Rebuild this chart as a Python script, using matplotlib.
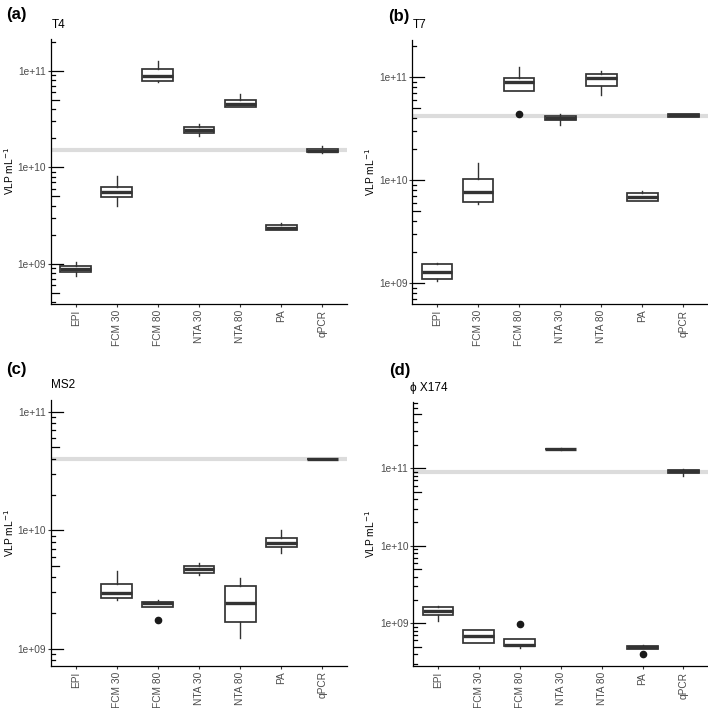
import numpy as np
import matplotlib
matplotlib.use("Agg")
import matplotlib.pyplot as plt
from matplotlib.ticker import FixedLocator, FixedFormatter

plt.rcParams["font.family"] = ["Liberation Sans", "DejaVu Sans"]

# methods on the x axis
categories = ["EPI", "FCM 30", "FCM 80", "NTA 30", "NTA 80", "PA", "qPCR"]

# box summaries: [lower whisker, Q1, median, Q3, upper whisker], None = no data
t4_stats = [
    [7.6e8, 8.2e8, 8.96e8, 9.6e8, 1.06e9],
    [4.0e9, 4.98e9, 5.5e9, 6.2e9, 8.15e9],
    [7.6e10, 7.8e10, 8.8e10, 1.03e11, 1.26e11],
    [2.13e10, 2.25e10, 2.44e10, 2.64e10, 2.79e10],
    [4.2e10, 4.25e10, 4.53e10, 4.98e10, 5.7e10],
    [2.23e9, 2.23e9, 2.38e9, 2.55e9, 2.64e9],
    [1.42e10, 1.43e10, 1.49e10, 1.55e10, 1.67e10],
]
t4_out = [[], [], [], [], [], [], []]
t4_ref = 1.5e10

t7_stats = [
    [1.05e9, 1.09e9, 1.29e9, 1.52e9, 1.57e9],
    [5.9e9, 6.1e9, 7.6e9, 1.03e10, 1.45e10],
    [7.3e10, 7.3e10, 8.9e10, 9.8e10, 1.24e11],
    [3.44e10, 3.8e10, 3.97e10, 4.2e10, 4.35e10],
    [6.7e10, 8.1e10, 9.85e10, 1.06e11, 1.14e11],
    [6.2e9, 6.2e9, 6.8e9, 7.5e9, 7.9e9],
    [4.1e10, 4.1e10, 4.28e10, 4.4e10, 4.4e10],
]
t7_out = [[], [], [4.37e10], [], [], [], []]
t7_ref = 4.18e10

ms2_stats = [
    None,
    [2.59e9, 2.69e9, 2.97e9, 3.52e9, 4.5e9],
    [2.23e9, 2.23e9, 2.44e9, 2.49e9, 2.59e9],
    [4.19e9, 4.38e9, 4.68e9, 4.99e9, 5.25e9],
    [1.23e9, 1.68e9, 2.44e9, 3.4e9, 3.95e9],
    [6.4e9, 7.27e9, 7.85e9, 8.55e9, 1.0e10],
    [3.97e10, 3.98e10, 3.99e10, 4.0e10, 4.01e10],
]
ms2_out = [[], [], [1.75e9], [], [], [], []]
ms2_ref = 4.0e10

phix_stats = [
    [1.08e9, 1.27e9, 1.46e9, 1.61e9, 1.66e9],
    [5.62e8, 5.62e8, 6.86e8, 8.2e8, 8.2e8],
    [4.8e8, 5.05e8, 5.3e8, 6.2e8, 6.2e8],
    [1.72e11, 1.75e11, 1.77e11, 1.79e11, 1.82e11],
    None,
    [4.7e8, 4.7e8, 4.9e8, 5.14e8, 5.3e8],
    [8.0e10, 8.7e10, 9.15e10, 9.5e10, 9.8e10],
]
phix_out = [[], [], [9.8e8], [], [], [4.0e8], []]
phix_ref = 8.9e10

W, H = 708, 708
fig = plt.figure(figsize=(W / 100, H / 100), dpi=100)


def px_axes(left, right, top, bottom):
    return fig.add_axes([left / W, 1 - bottom / H, (right - left) / W, (bottom - top) / H])


panels = [
    # tag, title, stats, outliers, ref, ylim (log10), box in px, tag pos, title pos, ylabel x
    ("(a)", "T4", t4_stats, t4_out, t4_ref, (8.586, 11.328), (51, 347, 39, 304), (6.5, 15), (51.5, 24.5), 2.5),
    ("(b)", "T7", t7_stats, t7_out, t7_ref, (8.796, 11.359), (412.3, 708, 40, 304), (388.5, 16), (413, 25), 363),
    ("(c)", "MS2", ms2_stats, ms2_out, ms2_ref, (8.857, 11.099), (51, 347, 400, 665.7), (6.5, 369), (51.5, 385.5), 2.5),
    ("(d)", "\u03d5 X174", phix_stats, phix_out, phix_ref, (8.445, 11.852), (413.3, 708, 402.3, 666.3), (389, 370.5), (410.5, 387.5), 363),
]

dark = "#333333"
for tag, title, stats, outs, ref, ylog, box, tagpos, titlepos, ylx in panels:
    ax = px_axes(*box)
    ax.set_yscale("log")
    ax.set_ylim(10 ** ylog[0], 10 ** ylog[1])
    ax.set_xlim(-0.6, len(categories) - 0.4)

    ax.axhline(ref, color="#dcdcdc", lw=3, zorder=1)

    bstats, pos = [], []
    for i, s in enumerate(stats):
        if s is None:
            continue
        bstats.append(dict(whislo=s[0], q1=s[1], med=s[2], q3=s[3], whishi=s[4], fliers=outs[i]))
        pos.append(i)
    ax.bxp(bstats, positions=pos, widths=0.75, patch_artist=True, showcaps=False,
           boxprops=dict(facecolor="white", edgecolor=dark, lw=1.25),
           medianprops=dict(color=dark, lw=2.4, solid_capstyle="butt"),
           whiskerprops=dict(color=dark, lw=1.0),
           flierprops=dict(marker="o", markerfacecolor="#1a1a1a", markeredgecolor="#1a1a1a", markersize=4.5),
           zorder=3)

    # log ticks drawn inside the panel
    y0, y1 = ax.get_ylim()
    tr = ax.get_yaxis_transform()
    for k in range(int(np.floor(ylog[0])), int(np.ceil(ylog[1])) + 1):
        for m in range(1, 10):
            v = m * 10.0 ** k
            if v < y0 or v > y1:
                continue
            L = 0.04 if m == 1 else (0.0267 if m == 5 else 0.0133)
            ax.plot([0, L], [v, v], transform=tr, color="black", lw=0.9, zorder=4)

    decades = [10.0 ** k for k in range(int(np.ceil(ylog[0])), int(np.floor(ylog[1])) + 1)]
    ax.yaxis.set_major_locator(FixedLocator(decades))
    ax.yaxis.set_major_formatter(FixedFormatter(["1e+%02d" % int(round(np.log10(d))) for d in decades]))
    ax.yaxis.set_minor_locator(FixedLocator([]))
    ax.tick_params(axis="y", which="major", direction="out", length=2, width=0.8, color=dark,
                   labelsize=7.3, labelcolor="#4d4d4d", pad=1.5)

    ax.set_xticks(range(len(categories)))
    ax.set_xticklabels(categories, rotation=90, va="top", ha="center")
    ax.tick_params(axis="x", direction="out", length=2, width=0.8, color=dark,
                   labelsize=7.3, labelcolor="#4d4d4d", pad=2)

    for side in ["top", "right"]:
        ax.spines[side].set_visible(False)
    for side in ["left", "bottom"]:
        ax.spines[side].set_color("black")
        ax.spines[side].set_linewidth(0.9)

    fig.text(tagpos[0] / W, 1 - tagpos[1] / H, tag, fontsize=12, fontweight="bold",
             ha="left", va="center")
    fig.text(titlepos[0] / W, 1 - titlepos[1] / H, title, fontsize=8.5, ha="left", va="center")
    fig.text(ylx / W, 1 - ((box[2] + box[3]) / 2) / H, "VLP mL$^{-1}$", fontsize=7.3,
             rotation=90, ha="left", va="center")

fig.savefig("out.png", dpi=100)
